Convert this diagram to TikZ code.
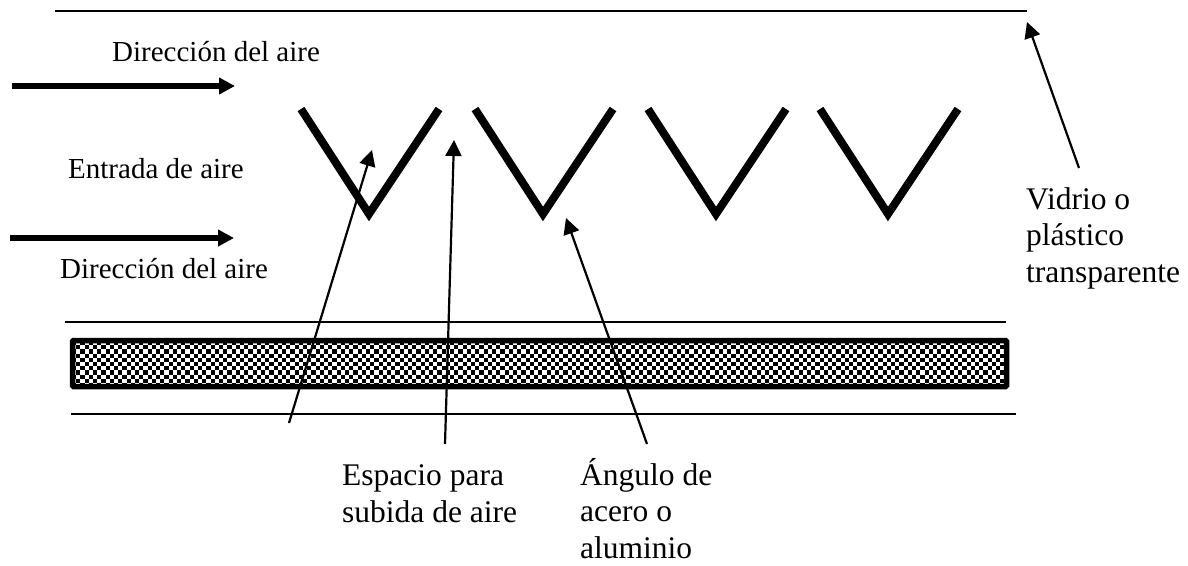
\documentclass[tikz,border=0pt]{standalone}
\usepackage{fontspec}
\setmainfont{Liberation Serif}
\usepackage{tikz}
\usetikzlibrary{arrows.meta}
\tikzset{
  txtsmall/.style={font=\fontsize{29}{33}\selectfont, inner sep=0pt},
  txtbig/.style={font=\fontsize{31.5}{36.5}\selectfont, inner sep=0pt, align=left},
  flow/.style={line width=5.5pt, -{Triangle[length=16pt,width=16pt]}},
  pointer/.style={line width=2.2pt, -{Triangle[length=16pt,width=16pt]}},
  plainline/.style={line width=1.8pt},
  angleV/.style={line width=8pt, miter limit=10},
}
\begin{document}
\begin{tikzpicture}[x=1pt, y=-1pt, >=Latex]
    \useasboundingbox (0,0) rectangle (1188,565);
    % cover and lower lines
    \draw[plainline] (55,11) -- (1027,11);
    \draw[plainline] (65,322) -- (1006,322);
    \draw[plainline] (71,414) -- (1016,414);
    % absorber plate
    \begin{scope}
      \clip (72.5,340.5) rectangle (1006.5,386.5);
      \foreach \col in {0,...,222} {
        \foreach \row in {0,...,10} {
          \pgfmathparse{int(mod(\col+\row,2))}
          \ifnum\pgfmathresult=0
            \fill (72+\col*4.2,341+\row*4.2) rectangle ++(4.2,4.2);
          \fi
        }
      }
    \end{scope}
    \draw[line width=5.5pt, rounded corners=1pt] (72.5,340.5) rectangle (1006.5,386.5);
    % air arrows
    \coordinate (flowatail) at (12,86);
    \coordinate (flowahead) at (235,86);
    \coordinate (flowbtail) at (10,238);
    \coordinate (flowbhead) at (234,238);
    \draw[flow] (flowatail) -- (flowahead);
    \draw[flow] (flowbtail) -- (flowbhead);
    \node[txtsmall, anchor=base west] (dira) at (112,61) {Dirección del aire};
    \node[txtsmall, anchor=base west] (entrada) at (68,178) {Entrada de aire};
    \node[txtsmall, anchor=base west] (dirb) at (60,278) {Dirección del aire};
    % angle profiles
    \foreach \xv in {369,543,716,888}
      \draw[angleV] (\xv-68,109) -- (\xv,214) -- (\xv+70,109);
    % labels
    \node[txtbig, anchor=base west] (espacio) at (342,522) {Espacio para\\subida de aire};
    \node[txtbig, anchor=base west] (angulo) at (580,558) {Ángulo de\\acero o\\aluminio};
    \node[txtbig, anchor=base west] (vidrio) at (1026,282) {Vidrio o\\plástico\\transparente};
    % pointers
    \coordinate (ptrafree) at (289,423);
    \coordinate (ptratip) at (372,150);
    \coordinate (ptrbfree) at (445,444);
    \coordinate (ptrbtip) at (454,140);
    \coordinate (ptrcfree) at (647,444);
    \coordinate (ptrctip) at (566,218);
    \coordinate (ptrdfree) at (1079,168);
    \coordinate (ptrdtip) at (1027,22);
    \draw[pointer] (ptrafree) -- (ptratip);
    \draw[pointer] (ptrbfree) -- (ptrbtip);
    \draw[pointer] (ptrcfree) -- (ptrctip);
    \draw[pointer] (ptrdfree) -- (ptrdtip);
  \end{tikzpicture}
\end{document}
